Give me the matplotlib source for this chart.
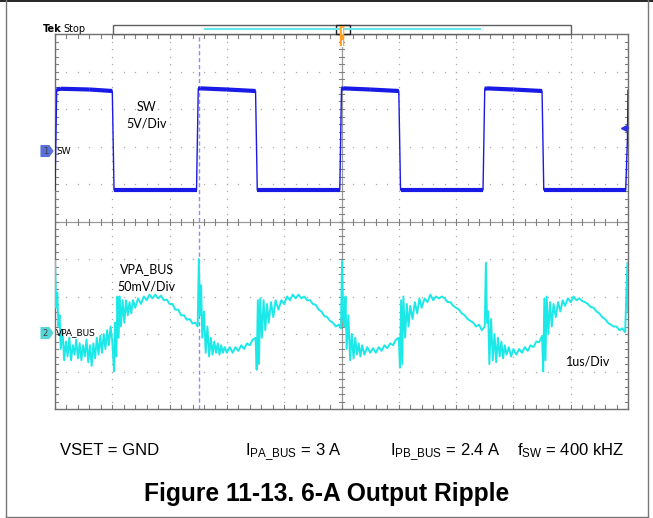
import numpy as np
import matplotlib.pyplot as plt
from matplotlib.patches import Rectangle, Polygon
from matplotlib.lines import Line2D

plt.rcParams['mathtext.fontset'] = 'custom'
plt.rcParams['mathtext.rm'] = 'Liberation Sans'
plt.rcParams['mathtext.default'] = 'regular'

# SW trace (time in us, level in divisions from bottom of screen)
sw_t = [0.00, 0.03, 0.10, 0.60, 1.00, 1.03, 1.06, 1.50, 2.47, 2.50, 2.54, 3.00, 3.50,
        3.53, 3.56, 4.00, 4.97, 5.00, 5.04, 5.50, 6.00, 6.03, 6.06, 6.50, 7.47, 7.50,
        7.54, 8.00, 8.50, 8.53, 8.56, 9.00, 9.96, 9.99, 10.00]
sw_v = [5.84, 8.52, 8.54, 8.52, 8.48, 5.84, 5.84, 5.84, 5.84, 8.54, 8.55, 8.52, 8.48,
        5.84, 5.84, 5.84, 5.84, 8.54, 8.55, 8.52, 8.48, 5.84, 5.84, 5.84, 5.84, 8.54,
        8.55, 8.52, 8.48, 5.84, 5.84, 5.84, 5.84, 7.20, 8.50]

# VPA_BUS ripple trace (time in us, level in divisions)
ripple_t = [0.00, 0.02, 0.04, 0.06, 0.08, 0.10, 0.13, 0.16, 0.19, 0.22, 0.25, 0.28, 0.31,
            0.34, 0.37, 0.40, 0.43, 0.46, 0.49, 0.52, 0.55, 0.58, 0.61, 0.64, 0.67, 0.70,
            0.73, 0.76, 0.79, 0.82, 0.85, 0.88, 0.91, 0.94, 0.97, 1.00, 1.03, 1.05, 1.07,
            1.09, 1.11, 1.13, 1.15, 1.18, 1.21, 1.24, 1.27, 1.30, 1.33, 1.36, 1.40, 1.45,
            1.50, 1.55, 1.60, 1.65, 1.70, 1.75, 1.80, 1.85, 1.90, 1.95, 2.00, 2.05, 2.10,
            2.15, 2.20, 2.25, 2.30, 2.35, 2.40, 2.45, 2.49,
            2.51, 2.53, 2.55, 2.57, 2.60, 2.63, 2.66, 2.69, 2.72, 2.75, 2.78, 2.81, 2.84,
            2.87, 2.90, 2.93, 2.96, 3.00, 3.05, 3.10, 3.15, 3.20, 3.25, 3.30, 3.35, 3.40,
            3.45, 3.50, 3.52, 3.54, 3.56, 3.58, 3.61, 3.64, 3.67, 3.70, 3.73, 3.77, 3.81,
            3.85, 3.90, 3.95, 4.00, 4.05, 4.10, 4.15, 4.20, 4.25, 4.30, 4.35, 4.40, 4.45,
            4.50, 4.55, 4.60, 4.65, 4.70, 4.75, 4.80, 4.85, 4.90, 4.95, 4.99,
            5.01, 5.03, 5.05, 5.07, 5.09, 5.12, 5.15, 5.18, 5.21, 5.24, 5.27, 5.30, 5.33,
            5.36, 5.40, 5.45, 5.50, 5.55, 5.60, 5.65, 5.70, 5.75, 5.80, 5.85, 5.90, 5.95,
            6.00, 6.02, 6.04, 6.06, 6.08, 6.11, 6.14, 6.17, 6.20, 6.24, 6.28, 6.32, 6.36,
            6.40, 6.45, 6.50, 6.55, 6.60, 6.65, 6.70, 6.75, 6.80, 6.85, 6.90, 6.95, 7.00,
            7.05, 7.10, 7.15, 7.20, 7.25, 7.30, 7.35, 7.40, 7.45,
            7.50, 7.52, 7.54, 7.56, 7.58, 7.61, 7.64, 7.67, 7.70, 7.73, 7.76, 7.79, 7.82,
            7.85, 7.88, 7.92, 7.96, 8.00, 8.05, 8.10, 8.15, 8.20, 8.25, 8.30, 8.35, 8.40,
            8.45, 8.50, 8.52, 8.54, 8.56, 8.58, 8.61, 8.64, 8.67, 8.70, 8.74, 8.78, 8.82,
            8.86, 8.90, 8.95, 9.00, 9.05, 9.10, 9.15, 9.20, 9.25, 9.30, 9.35, 9.40, 9.45,
            9.50, 9.55, 9.60, 9.65, 9.70, 9.75, 9.80, 9.85, 9.90, 9.95, 9.97, 9.99, 10.00]
ripple_v = [3.95, 2.70, 3.10, 2.20, 2.50, 1.60, 2.10, 1.30, 1.80, 1.40, 1.90, 1.30, 1.70,
            1.45, 1.85, 1.35, 1.75, 1.30, 1.70, 1.40, 1.85, 1.25, 1.70, 1.15, 1.75, 1.35,
            1.90, 1.45, 1.95, 1.50, 2.00, 1.60, 2.10, 1.70, 2.20, 1.80, 1.00, 2.30, 1.40,
            3.00, 1.90, 3.00, 2.20, 2.90, 2.30, 2.90, 2.50, 2.85, 2.55, 2.90, 2.70, 2.95,
            2.80, 3.00, 2.90, 3.05, 2.95, 3.05, 2.95, 3.02, 2.90, 2.92, 2.80, 2.80, 2.65,
            2.65, 2.50, 2.50, 2.38, 2.40, 2.28, 2.30, 2.20,
            4.00, 2.50, 3.30, 1.90, 2.60, 1.50, 2.20, 1.40, 1.90, 1.45, 1.80, 1.50, 1.75,
            1.45, 1.70, 1.50, 1.65, 1.50, 1.65, 1.50, 1.65, 1.55, 1.70, 1.60, 1.75, 1.70,
            1.85, 1.90, 1.05, 2.90, 1.20, 2.95, 1.90, 2.90, 2.10, 2.80, 2.30, 2.85, 2.45,
            2.90, 2.65, 2.90, 2.80, 3.00, 2.90, 3.05, 2.95, 3.05, 2.95, 3.00, 2.90, 2.90,
            2.80, 2.78, 2.65, 2.60, 2.48, 2.45, 2.35, 2.30, 2.20, 2.25, 2.15,
            3.95, 2.40, 2.20, 3.00, 1.60, 2.50, 1.30, 2.00, 1.35, 1.90, 1.45, 1.75, 1.40,
            1.70, 1.45, 1.65, 1.50, 1.62, 1.50, 1.65, 1.55, 1.70, 1.62, 1.75, 1.70, 1.85,
            1.90, 1.10, 2.90, 1.20, 3.00, 1.90, 2.80, 2.20, 2.75, 2.40, 2.85, 2.55, 2.95,
            2.70, 2.95, 2.85, 3.05, 2.90, 3.00, 2.95, 3.00, 2.95, 2.85, 2.85, 2.75, 2.70,
            2.65, 2.55, 2.50, 2.40, 2.35, 2.30, 2.20, 2.25, 2.10,
            2.20, 3.90, 2.30, 2.60, 1.20, 2.40, 1.30, 2.00, 1.25, 1.90, 1.40, 1.80, 1.35,
            1.70, 1.45, 1.65, 1.40, 1.60, 1.45, 1.60, 1.50, 1.65, 1.55, 1.70, 1.65, 1.80,
            1.78, 1.95, 1.00, 2.95, 1.30, 3.00, 2.00, 2.85, 2.20, 2.80, 2.45, 2.85, 2.60,
            2.90, 2.75, 2.95, 2.85, 3.00, 2.90, 2.95, 2.88, 2.85, 2.80, 2.72, 2.70, 2.60,
            2.55, 2.45, 2.40, 2.30, 2.25, 2.20, 2.20, 2.10, 2.15, 2.05, 3.00, 3.90, 2.60]

sw_labels = ['SW', '5V/Div']
ripple_labels = ['VPA_BUS', '50mV/Div']
timebase = '1us/Div'
conditions = ['VSET = GND', r'I$_{PA\_BUS}$ = 3 A', r'I$_{PB\_BUS}$ = 2.4 A', r'f$_{SW}$ = 400 kHZ']
caption = 'Figure 11-13. 6-A Output Ripple'

W, H = 653, 518
fig = plt.figure(figsize=(W / 100, H / 100), dpi=100)


def fx(px):
    return px / W


def fy(py):
    return 1 - py / H


x0, x1, y0, y1 = 55, 628, 34, 409
ax = fig.add_axes([fx(x0), fy(y1), fx(x1) - fx(x0), fy(y0) - fy(y1)])
ax.set_xlim(0, 10)
ax.set_ylim(0, 10)
ax.set_xticks([])
ax.set_yticks([])
for s in ax.spines.values():
    s.set_color('#707070')
    s.set_linewidth(1.0)

grid_col = '#a8a8a8'
minor = np.arange(0, 10.01, 0.2)
# dotted graticule
for k in range(1, 10):
    if k == 5:
        continue
    ax.plot([k] * len(minor), minor, ls='none', marker='s', ms=0.9, color=grid_col, mew=0)
    ax.plot(minor, [k] * len(minor), ls='none', marker='s', ms=0.9, color=grid_col, mew=0)
# center crosshair with ticks
ax.axhline(5, color='#9a9a9a', lw=0.9)
ax.axvline(5, color='#9a9a9a', lw=0.9)
for m in minor:
    ax.plot([m, m], [4.92, 5.08], color='#808080', lw=0.8)
    ax.plot([4.95, 5.05], [m, m], color='#808080', lw=0.8)
    # ticks on border
    ax.plot([m, m], [10, 9.9], color='#808080', lw=0.8)
    ax.plot([m, m], [0, 0.1], color='#808080', lw=0.8)
    ax.plot([0, 0.06], [m, m], color='#808080', lw=0.8)
    ax.plot([10, 9.94], [m, m], color='#808080', lw=0.8)

# cursor line
ax.axvline(2.51, color='#8c8cff', lw=1.0, ls=(0, (3, 2)))

sw_col = '#1a1ae6'
rip_col = '#1de8e8'
ax.plot(ripple_t, ripple_v, color=rip_col, lw=1.4, zorder=4)
ax.plot(sw_t, sw_v, color=sw_col, lw=1.0, zorder=5)
for i in range(len(sw_t) - 1):
    if abs(sw_v[i + 1] - sw_v[i]) < 0.2:
        ax.plot(sw_t[i:i + 2], sw_v[i:i + 2], color=sw_col, lw=3.0,
                solid_capstyle='butt', zorder=5)

# trigger level marker
ax.plot([9.93], [7.49], marker='<', color='#3030e0', ms=4, clip_on=False, zorder=6)
ax.plot([9.93, 10], [7.49, 7.49], color='#3030e0', lw=1.2, clip_on=False, zorder=6)

scope_font = 'Lato'
ax.text(1.6, 8.05, sw_labels[0], fontsize=9, family=scope_font, ha='center', va='center')
ax.text(1.6, 7.6, sw_labels[1], fontsize=9, family=scope_font, ha='center', va='center')
ax.text(1.6, 3.72, ripple_labels[0], fontsize=9, family=scope_font, ha='center', va='center')
ax.text(1.6, 3.27, ripple_labels[1], fontsize=9, family=scope_font, ha='center', va='center')
ax.text(9.3, 1.28, timebase, fontsize=9, family=scope_font, ha='center', va='center')

# channel markers
def ch_marker(py, num, col, label):
    pts = [(fx(41), fy(py - 5.5)), (fx(49), fy(py - 5.5)), (fx(53), fy(py)),
           (fx(49), fy(py + 5.5)), (fx(41), fy(py + 5.5))]
    fig.add_artist(Polygon(pts, closed=True, facecolor=col, edgecolor=col, lw=0.8))
    fig.text(fx(45.5), fy(py), num, fontsize=6, color='#404040', ha='center', va='center')
    fig.text(fx(56), fy(py), label, fontsize=6.5, family='DejaVu Sans', ha='left', va='center')


ch_marker(151, '1', '#5b6fd8', 'SW')
ch_marker(333, '2', '#56d6d6', 'VPA_BUS')

# top record bar
fig.add_artist(Rectangle((fx(113), fy(34)), fx(571) - fx(113), fy(25) - fy(34),
                         facecolor='white', edgecolor='#606060', lw=1.0))
fig.add_artist(Line2D([fx(205), fx(480)], [fy(29.3), fy(29.3)], color='#66e8e8', lw=1.5))
fig.add_artist(Rectangle((fx(335.5), fy(34)), fx(349.5) - fx(335.5), fy(25) - fy(34),
                         facecolor='none', edgecolor='#202020', lw=1.0))
fig.add_artist(Line2D([fx(342), fx(342)], [fy(26), fy(46)], color='#ffa020', lw=3.2,
                      solid_capstyle='butt'))
fig.add_artist(Line2D([fx(342), fx(342)], [fy(28), fy(33)], color='white', lw=1.0))
fig.add_artist(Line2D([fx(342), fx(342)], [fy(40), fy(46)], color='white', lw=0.8))
fig.text(fx(43), fy(29.5), 'Tek', fontsize=7, fontweight='bold', family='DejaVu Sans',
         ha='left', va='center')
fig.text(fx(63), fy(29.5), 'Stop', fontsize=7, family='DejaVu Sans', ha='left', va='center')

# outer frame
fig.add_artist(Line2D([0, 1], [fy(0.5), fy(0.5)], color='black', lw=1.2))
fig.add_artist(Line2D([fx(5.5), fx(5.5)], [fy(0), fy(516.5)], color='#777777', lw=1.0))
fig.add_artist(Line2D([fx(5.5), fx(648)], [fy(516.5), fy(516.5)], color='#777777', lw=1.0))
fig.add_artist(Line2D([fx(648), fx(648)], [fy(0), fy(516.5)], color='#777777', lw=1.0))

# bottom conditions and caption
cond_x = [60, 245, 390, 517]
for xx, s in zip(cond_x, conditions):
    fig.text(fx(xx), fy(455), s, fontsize=12, family='Liberation Sans', ha='left',
             va='baseline')
fig.text(fx(327), fy(501), caption, fontsize=17.7, fontweight='bold',
         family='Liberation Sans', ha='center', va='baseline')

fig.savefig('out.png', dpi=100)
